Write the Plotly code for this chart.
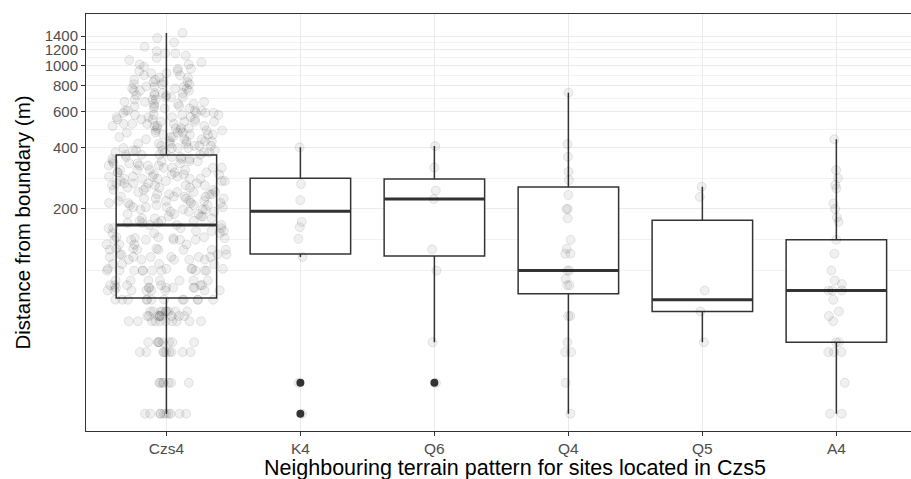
import numpy as np
import plotly.graph_objects as go

# ---------------- data ----------------
categories = ["Czs4", "K4", "Q6", "Q4", "Q5", "A4"]

# pre-computed box statistics
box_q1 = [73.5, 120.5, 118, 77, 63.2, 44.7]
box_median = [167, 195, 224, 100, 72.1, 80]
box_q3 = [367, 283, 280, 256, 176, 141.4]
box_lower = [20, 116.6, 44.7, 20, 44.7, 20]
box_upper = [1450, 400, 406, 740, 257, 438]

# outliers
outlier_cat = ["K4", "K4", "Q6"]
outlier_val = [28.3, 20, 28.3]

# Czs4 observations: distinct distances and how many sites at each
czs4_values = [20, 28.3, 40, 44.7, 56.6, 60, 63.2, 72.1, 80, 82.5, 84.9, 89.4,
               100, 102, 107.7, 113.1, 116.6, 120, 126.5, 128.1, 134.2, 141.4,
               144.2, 145.6, 152.3, 156.2, 161.2,
               167, 171, 175, 180, 184, 189, 194, 199,
               204, 209, 214, 219, 225, 230, 236, 242, 248,
               254, 261, 267, 274, 281, 288, 295,
               302, 310, 318, 326, 334, 342, 351, 359,
               368, 378, 387, 397, 407, 417, 428, 438, 449,
               461, 472, 484, 496, 509, 521, 534, 548,
               562, 576, 590, 605, 620, 636, 652, 668, 685,
               702, 719, 737, 756, 775, 794, 814, 834, 855, 877, 899,
               921, 944, 968, 992, 1017, 1042, 1069, 1095,
               1123, 1151, 1180, 1240, 1302, 1368, 1450]
czs4_counts = [10, 7, 9, 8, 10, 9, 9, 12, 8, 7, 6, 7,
               10, 5, 4, 5, 6, 4, 6, 3, 4, 6,
               3, 3, 3, 3, 4,
               3, 3, 3, 3, 3, 3, 3, 4,
               4, 4, 4, 4, 4, 4, 4, 4, 3,
               4, 4, 5, 4, 5, 4, 4,
               4, 4, 4, 4, 4, 4, 3, 3,
               4, 4, 4, 4, 4, 4, 4, 3, 3,
               4, 4, 4, 4, 4, 4, 4, 4,
               4, 4, 4, 4, 3, 3, 3, 3, 3,
               3, 3, 3, 3, 3, 3, 3, 3, 2, 2, 2,
               2, 2, 2, 1, 2, 1, 1, 1,
               1, 2, 1, 1, 1, 1, 1]

k4_values = [400, 265, 221, 173, 163, 143, 116.6, 28.3, 20]
q6_values = [406, 319, 246, 223.6, 127, 100, 44.7, 28.3]
q4_values = [740, 415, 360, 304, 277, 234, 200, 200, 180, 141.4, 128, 121, 121,
             100, 100, 91, 84.9, 84.9, 60, 60, 44.7, 40, 40, 28.3, 20]
q5_values = [257, 229, 80, 63.2, 44.7]
a4_values = [438, 310, 282.8, 262, 252, 213, 200, 182, 173, 141.4, 121, 100,
             89.4, 86, 80, 80, 80, 72.1, 63.2, 60, 56.6, 44.7, 44.7, 40, 40, 40,
             28.3, 20, 20]

y_tick_vals = [200, 400, 600, 800, 1000, 1200, 1400]

x_title = "Neighbouring terrain pattern for sites located in Czs5"
y_title = "Distance from boundary (m)"

# ---------------- style ----------------
czs4_band_edges = [0, 35, 50, 70, 600, 1000, 5000]
czs4_band_jitter = [0.42, 0.52, 0.74, 1.0, 1.0, 0.75]
other_jitter = {"K4": 0.05, "Q6": 0.05, "Q4": 0.07, "Q5": 0.05, "A4": 0.18}

PT_FILL = "rgba(0,0,0,0.06)"
PT_LINE = "rgba(0,0,0,0.09)"
INK = "#333333"
GRID = "#EBEBEB"

fig = go.Figure()

# boxes (white fill, thin outline)
fig.add_trace(go.Box(
    x=categories, q1=box_q1, median=box_median, q3=box_q3,
    lowerfence=box_lower, upperfence=box_upper,
    boxpoints=False, width=0.75, whiskerwidth=0,
    fillcolor="white", line=dict(color=INK, width=1.5),
    hoverinfo="skip", showlegend=False))

# thicker median bar (degenerate box)
fig.add_trace(go.Box(
    x=categories, q1=box_median, median=box_median, q3=box_median,
    lowerfence=box_median, upperfence=box_median,
    boxpoints=False, width=0.75, whiskerwidth=0,
    fillcolor="rgba(0,0,0,0)", line=dict(color=INK, width=3),
    hoverinfo="skip", showlegend=False))


def point_trace(cat, vals, jit):
    return go.Box(
        x=[cat] * len(vals), y=vals, boxpoints="all", jitter=jit, pointpos=0,
        width=0.9, fillcolor="rgba(0,0,0,0)", line=dict(width=0, color="rgba(0,0,0,0)"),
        marker=dict(size=9, color=PT_FILL, line=dict(color=PT_LINE, width=1)),
        hoverinfo="skip", showlegend=False)


czs4_all = np.repeat(np.array(czs4_values, dtype=float), czs4_counts)
for lo, hi, jit in zip(czs4_band_edges[:-1], czs4_band_edges[1:], czs4_band_jitter):
    sel = czs4_all[(czs4_all >= lo) & (czs4_all < hi)]
    if len(sel):
        fig.add_trace(point_trace("Czs4", sel.tolist(), jit))

for cat, vals in zip(categories[1:], [k4_values, q6_values, q4_values, q5_values, a4_values]):
    fig.add_trace(point_trace(cat, vals, other_jitter[cat]))

# outliers
fig.add_trace(go.Scatter(
    x=outlier_cat, y=outlier_val, mode="markers",
    marker=dict(size=8, color=INK), hoverinfo="skip", showlegend=False))

# minor grid lines (ggplot-style midpoints in log space)
ext = [y_tick_vals[0] ** 2 / y_tick_vals[1]] + y_tick_vals
minor_vals = [ext[0]] + [float(np.sqrt(a * b)) for a, b in zip(ext[:-1], ext[1:])]

fig.update_layout(
    width=911, height=479,
    margin=dict(l=86, r=0, t=14, b=48),
    paper_bgcolor="white", plot_bgcolor="white",
    font=dict(family="Liberation Sans, Arial, sans-serif", color="black"),
    boxmode="overlay",
    xaxis=dict(
        type="category", categoryorder="array", categoryarray=categories,
        range=[-0.6, 5.557], showgrid=True, gridcolor=GRID, gridwidth=1,
        ticks="outside", ticklen=3.5, tickcolor=INK, tickwidth=1,
        tickfont=dict(size=15.5, color="#4D4D4D"),
        showline=True, linecolor=INK, linewidth=1, mirror=True,
        automargin=False, fixedrange=True),
    yaxis=dict(
        type="log", range=[1.2165, 3.2536],
        tickmode="array", tickvals=y_tick_vals, ticktext=[str(v) for v in y_tick_vals],
        showgrid=True, gridcolor=GRID, gridwidth=1,
        minor=dict(tickmode="array", tickvals=minor_vals, showgrid=True,
                   gridcolor="#F2F2F2", gridwidth=1, ticks=""),
        ticks="outside", ticklen=4, tickcolor=INK, tickwidth=1,
        tickfont=dict(size=15, color="#4D4D4D"),
        showline=True, linecolor=INK, linewidth=1, mirror=False,
        zeroline=False,
        title=dict(text=y_title, font=dict(size=20.5, color="black"), standoff=8),
        automargin=False, fixedrange=True),
    annotations=[dict(
        text=x_title, xref="paper", yref="paper", x=0.52, y=-0.089,
        xanchor="center", yanchor="middle", showarrow=False,
        font=dict(size=21.5, color="black"))],
)

fig.write_html("out.html", config={"displayModeBar": False, "staticPlot": True},
               post_script="document.body.style.margin='0';document.body.style.overflow='hidden';")
